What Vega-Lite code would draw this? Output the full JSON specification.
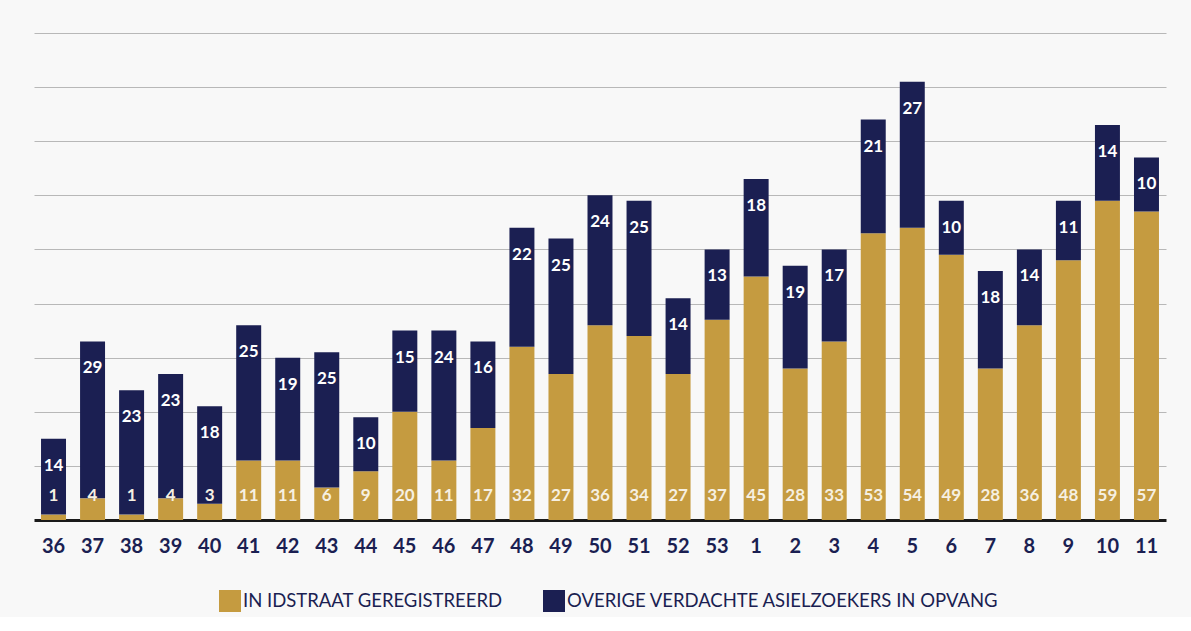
{
  "$schema": "https://vega.github.io/schema/vega-lite/v6.json",
  "width": 1132,
  "height": 487,
  "padding": {"left": 34, "top": 33, "right": 25, "bottom": 5},
  "background": "#f8f8f8",
  "config": {"view": {"stroke": null}, "font": "Lato"},
  "data": {
    "values": [
      {"week": "36", "gold": 1, "navy": 14},
      {"week": "37", "gold": 4, "navy": 29},
      {"week": "38", "gold": 1, "navy": 23},
      {"week": "39", "gold": 4, "navy": 23},
      {"week": "40", "gold": 3, "navy": 18},
      {"week": "41", "gold": 11, "navy": 25},
      {"week": "42", "gold": 11, "navy": 19},
      {"week": "43", "gold": 6, "navy": 25},
      {"week": "44", "gold": 9, "navy": 10},
      {"week": "45", "gold": 20, "navy": 15},
      {"week": "46", "gold": 11, "navy": 24},
      {"week": "47", "gold": 17, "navy": 16},
      {"week": "48", "gold": 32, "navy": 22},
      {"week": "49", "gold": 27, "navy": 25},
      {"week": "50", "gold": 36, "navy": 24},
      {"week": "51", "gold": 34, "navy": 25},
      {"week": "52", "gold": 27, "navy": 14},
      {"week": "53", "gold": 37, "navy": 13},
      {"week": "1", "gold": 45, "navy": 18},
      {"week": "2", "gold": 28, "navy": 19},
      {"week": "3", "gold": 33, "navy": 17},
      {"week": "4", "gold": 53, "navy": 21},
      {"week": "5", "gold": 54, "navy": 27},
      {"week": "6", "gold": 49, "navy": 10},
      {"week": "7", "gold": 28, "navy": 18},
      {"week": "8", "gold": 36, "navy": 14},
      {"week": "9", "gold": 48, "navy": 11},
      {"week": "10", "gold": 59, "navy": 14},
      {"week": "11", "gold": 57, "navy": 10}
    ]
  },
  "transform": [
    {"fold": ["gold", "navy"], "as": ["series", "value"]},
    {"joinaggregate": [{"op": "sum", "field": "value", "as": "total"}], "groupby": ["week"]}
  ],
  "encoding": {
    "x": {
      "field": "week",
      "type": "ordinal",
      "scale": {
        "domain": ["36","37","38","39","40","41","42","43","44","45","46","47","48","49","50","51","52","53","1","2","3","4","5","6","7","8","9","10","11"],
        "paddingInner": 0.36,
        "paddingOuter": 0.18
      },
      "axis": {
        "title": null,
        "labelAngle": 0,
        "ticks": false,
        "domain": true,
        "domainColor": "#1a1a1a",
        "domainWidth": 3,
        "labelFontSize": 20,
        "labelFontWeight": "bold",
        "labelColor": "#1b1f52",
        "labelPadding": 16
      }
    }
  },
  "layer": [
    {
      "mark": {"type": "bar"},
      "encoding": {
        "y": {
          "field": "value",
          "type": "quantitative",
          "stack": "zero",
          "scale": {"domain": [0, 90]},
          "axis": {
            "title": null,
            "labels": false,
            "ticks": false,
            "domain": false,
            "grid": true,
            "gridColor": "#b8b8b8",
            "gridWidth": 1,
            "values": [10, 20, 30, 40, 50, 60, 70, 80, 90]
          }
        },
        "color": {
          "field": "series",
          "type": "nominal",
          "scale": {"domain": ["gold", "navy"], "range": ["#c59b40", "#1b1f52"]},
          "legend": {
            "orient": "none",
            "legendX": 185,
            "legendY": 557,
            "title": null,
            "direction": "horizontal",
            "symbolType": "square",
            "symbolSize": 484,
            "symbolStrokeWidth": 0,
            "labelFontSize": 18.5,
            "labelColor": "#1b1f52",
            "labelOffset": 2,
            "labelLimit": 0,
            "columnPadding": 40,
            "labelExpr": "datum.label == 'gold' ? 'IN IDSTRAAT GEREGISTREERD' : 'OVERIGE VERDACHTE ASIELZOEKERS IN OPVANG'"
          }
        },
        "order": {"field": "series"}
      }
    },
    {
      "transform": [{"filter": "datum.series == 'gold'"}],
      "mark": {"type": "text", "fontSize": 17, "fontWeight": "bold", "color": "#f6f0e2", "baseline": "middle", "dy": -24},
      "encoding": {
        "y": {"datum": 0, "type": "quantitative"},
        "text": {"field": "value", "type": "quantitative"}
      }
    },
    {
      "transform": [{"filter": "datum.series == 'navy'"}],
      "mark": {"type": "text", "fontSize": 17, "fontWeight": "bold", "color": "#ffffff", "baseline": "middle", "dy": 27},
      "encoding": {
        "y": {"field": "total", "type": "quantitative"},
        "text": {"field": "value", "type": "quantitative"}
      }
    }
  ]
}
